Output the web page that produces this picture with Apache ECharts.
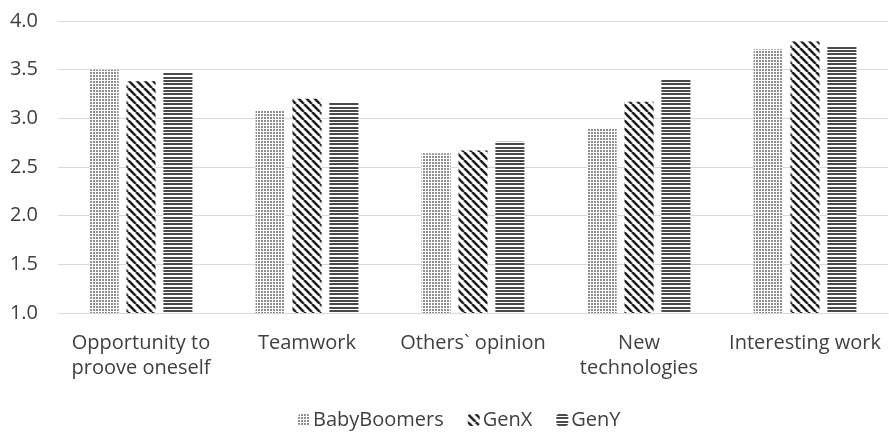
<!DOCTYPE html>
<html><head><meta charset="utf-8">
<script src="https://cdn.jsdelivr.net/npm/echarts@6/dist/echarts.min.js"></script>
<style>html,body{margin:0;padding:0;background:#fff}#c{width:889px;height:434px}</style>
</head><body><div id="c"></div>
<script>
const categories = ['Opportunity to\nproove oneself', 'Teamwork', 'Others` opinion', 'New\ntechnologies', 'Interesting work'];
const seriesNames = ['BabyBoomers', 'GenX', 'GenY'];
const babyBoomers = [3.50, 3.08, 2.64, 2.89, 3.71];
const genX = [3.38, 3.20, 2.67, 3.17, 3.79];
const genY = [3.47, 3.16, 2.76, 3.40, 3.75];
const yTicks = { min: 1.0, max: 4.0, interval: 0.5 };

function dotPattern() {
  const c = document.createElement('canvas'); c.width = 3; c.height = 3;
  const x = c.getContext('2d');
  x.fillStyle = '#fff'; x.fillRect(0, 0, 3, 3);
  x.fillStyle = '#8f8f8f'; x.fillRect(0, 0, 2, 2);
  return c;
}
function diagPattern() {
  const s = 8; const c = document.createElement('canvas'); c.width = s; c.height = s;
  const x = c.getContext('2d');
  x.fillStyle = '#fff'; x.fillRect(0, 0, s, s);
  x.strokeStyle = '#222'; x.lineWidth = 2.6;
  for (let k = -1; k <= 1; k++) {
    x.beginPath(); x.moveTo(k * s, 0); x.lineTo(k * s + s, s); x.stroke();
  }
  return c;
}
function horizPattern() {
  const c = document.createElement('canvas'); c.width = 4; c.height = 10;
  const x = c.getContext('2d');
  x.fillStyle = '#fff'; x.fillRect(0, 0, 4, 10);
  x.fillStyle = '#4a4a4a';
  x.fillRect(0, 0, 4, 2); x.fillRect(0, 3, 4, 2); x.fillRect(0, 7, 4, 2);
  return c;
}
const patterns = [dotPattern(), diagPattern(), horizPattern()];
const dataSets = [babyBoomers, genX, genY];

const chart = echarts.init(document.getElementById('c'), null, { renderer: 'canvas' });
const font = '"Open Sans", sans-serif';
chart.setOption({
  animation: false,
  grid: { left: 58, right: 1, top: 21, bottom: 121, containLabel: false },
  legend: {
    bottom: -1, left: 293, itemWidth: 12, itemHeight: 12, itemGap: 24,
    textStyle: { fontFamily: font, fontSize: 20, color: '#404040', padding: [0, 0, 0, -2] },
    data: seriesNames
  },
  xAxis: {
    type: 'category', data: categories,
    axisLine: { show: true, lineStyle: { color: '#d9d9d9', width: 1 } },
    axisTick: { show: false },
    axisLabel: { fontFamily: font, fontSize: 20, color: '#404040', lineHeight: 25, margin: 18, interval: 0 }
  },
  yAxis: {
    type: 'value', min: yTicks.min, max: yTicks.max, interval: yTicks.interval,
    axisLine: { show: false }, axisTick: { show: false },
    splitLine: { lineStyle: { color: '#d9d9d9', width: 1 } },
    axisLabel: { fontFamily: font, fontSize: 20, color: '#404040', margin: 20, formatter: v => v.toFixed(1) }
  },
  series: seriesNames.map((n, i) => ({
    name: n, type: 'bar', data: dataSets[i], barWidth: '17.5%', barGap: '27%',
    itemStyle: { color: { image: patterns[i], repeat: 'repeat' } }
  }))
});
</script></body></html>
